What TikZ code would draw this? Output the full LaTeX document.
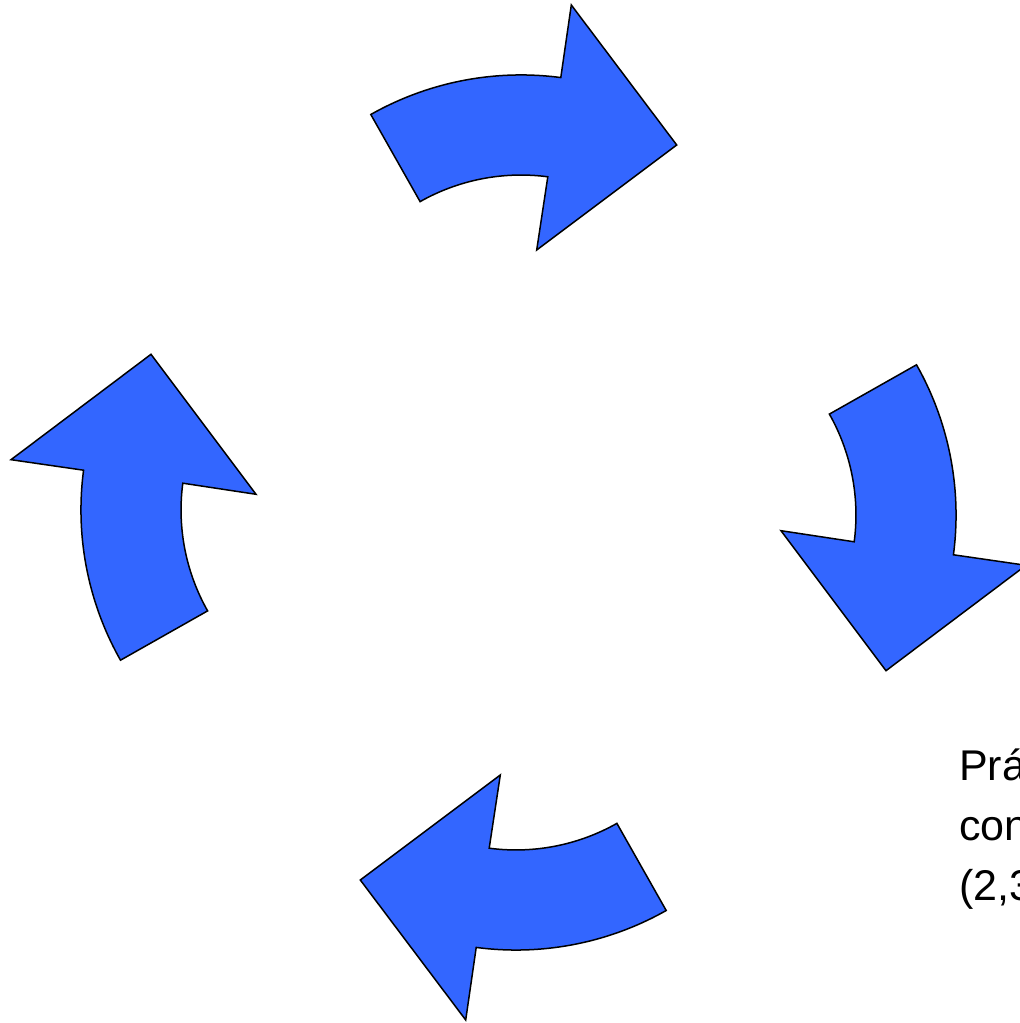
\documentclass[tikz,border=0pt]{standalone}
\usepackage{fontspec}
\setmainfont{Liberation Sans}
\definecolor{arrowblue}{RGB}{51,102,255}
\tikzset{
  cyclearrow/.style={fill=arrowblue, draw=black, line width=1.5pt, line join=miter},
}
\begin{document}
\begin{tikzpicture}[x=1pt, y=1pt]
  \useasboundingbox (0,0) rectangle (1020,1023);
  \clip (0,0) rectangle (1020,1023);

  % four curved arrows round the centre
  \foreach \a in {0,-90,-180,-270} {
    \begin{scope}[shift={(518.5,510.5)}, rotate=\a]
      \draw[cyclearrow] (-147.7,398) arc[start angle=119.5, end angle=82.5, radius=305]
        -- (52.8,507.5) -- (158.2,367.5) -- (18.2,262.5) -- (29.3,335.7)
        arc[start angle=82.5, end angle=119.5, radius=205] -- cycle;
    \end{scope}
  }

  % text, cut by the right edge
  \node[anchor=base west, align=left, inner sep=0pt, font=\fontsize{43}{60}\selectfont]
    (note) at (959,122) {Prá\\con\\(2,3};
\end{tikzpicture}
\end{document}
